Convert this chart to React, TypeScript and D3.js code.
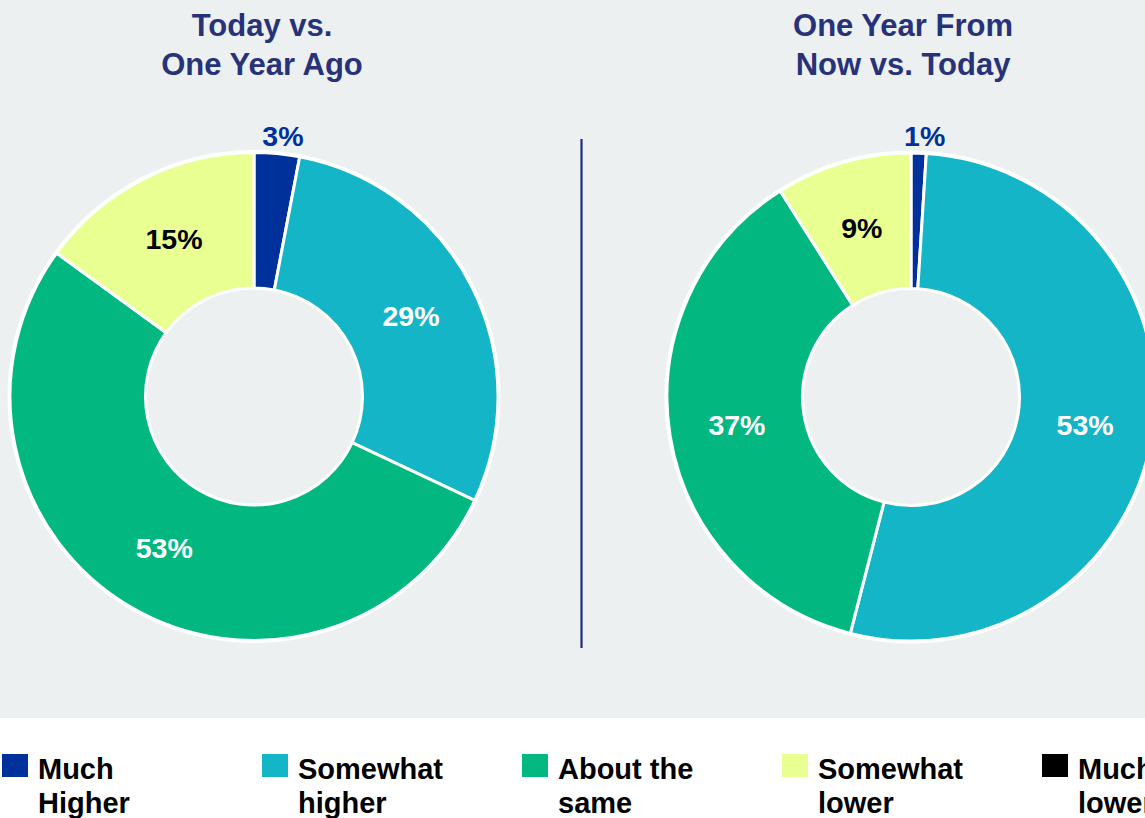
import React from "react";
import * as d3 from "d3";

const categories = ["Much Higher", "Somewhat higher", "About the same", "Somewhat lower", "Much lower"];
const legendLines = [["Much", "Higher"], ["Somewhat", "higher"], ["About the", "same"], ["Somewhat", "lower"], ["Much", "lower"]];
const colors = ["#00309A", "#15B5C8", "#02B880", "#E9FF92", "#000000"];
const labelColors = ["#00309A", "#FFFFFF", "#FFFFFF", "#000000", "#FFFFFF"];
const titles = [["Today vs.", "One Year Ago"], ["One Year From", "Now vs. Today"]];
const todayVsYearAgo = [3, 29, 53, 15, 0];
const yearFromNowVsToday = [1, 53, 37, 9, 0];
const series = [todayVsYearAgo, yearFromNowVsToday];

const W = 1145;
const H = 818;
const FONT = "'Liberation Sans', Arial, Helvetica, sans-serif";

const centers = [
  { cx: 254, cy: 396.5, tx: 262 },
  { cx: 911, cy: 397, tx: 903 },
];
const R_OUT = 244;
const R_IN = 108.5;

export default function App() {
  const pie = d3
    .pie<number>()
    .sort(null)
    .value((d) => d);
  const arc = d3.arc<d3.PieArcDatum<number>>().innerRadius(R_IN).outerRadius(R_OUT);
  const legendX = d3.scaleLinear().domain([0, 1]).range([38, 298]);

  return (
    <svg width={W} height={H} style={{ position: "absolute", left: 0, top: 0, display: "block" }} fontFamily={FONT}>
      <rect x={0} y={0} width={W} height={H} fill="#FFFFFF" />
      <rect x={0} y={0} width={W} height={718} fill="#ECF0F1" />
      <line x1={581.5} x2={581.5} y1={139} y2={648} stroke="#232D78" strokeWidth={2.2} />
      {series.map((vals, si) => {
        const c = centers[si];
        const arcs = pie(vals);
        return (
          <g key={si}>
            {titles[si].map((t, li) => (
              <text
                key={li}
                x={c.tx}
                y={36 + li * 38.5}
                textAnchor="middle"
                fontSize={31}
                fontWeight="bold"
                fill="#283278"
              >
                {t}
              </text>
            ))}
            <g transform={`translate(${c.cx},${c.cy})`}>
              {arcs
                .filter((a) => a.value > 0)
                .map((a, i) => (
                  <path key={i} d={arc(a) || ""} fill={colors[a.index]} stroke="#FFFFFF" strokeWidth={3} />
                ))}
              <circle r={R_OUT + 1} fill="none" stroke="#FFFFFF" strokeWidth={3} />
              {arcs
                .filter((a) => a.value > 0)
                .map((a, i) => {
                  const frac = a.value / d3.sum(vals);
                  const mid = (a.startAngle + a.endAngle) / 2;
                  let x: number, y: number;
                  if (frac < 0.05) {
                    x = Math.sin(mid) * R_OUT + 6;
                    y = -R_OUT - 7;
                  } else {
                    const [px, py] = arc.centroid(a);
                    x = px;
                    y = py + 10;
                  }
                  return (
                    <text
                      key={i}
                      x={x}
                      y={y}
                      textAnchor="middle"
                      fontSize={28.5}
                      fontWeight="bold"
                      fill={labelColors[a.index]}
                    >
                      {`${a.value}%`}
                    </text>
                  );
                })}
            </g>
          </g>
        );
      })}
      {categories.map((cat, i) => {
        const tx = legendX(i);
        return (
          <g key={cat}>
            <rect x={tx - 36} y={754} width={26} height={23} fill={colors[i]} />
            {legendLines[i].map((ln, li) => (
              <text key={li} x={tx} y={779 + li * 34} fontSize={29} fontWeight="bold" fill="#000000">
                {ln}
              </text>
            ))}
          </g>
        );
      })}
    </svg>
  );
}
